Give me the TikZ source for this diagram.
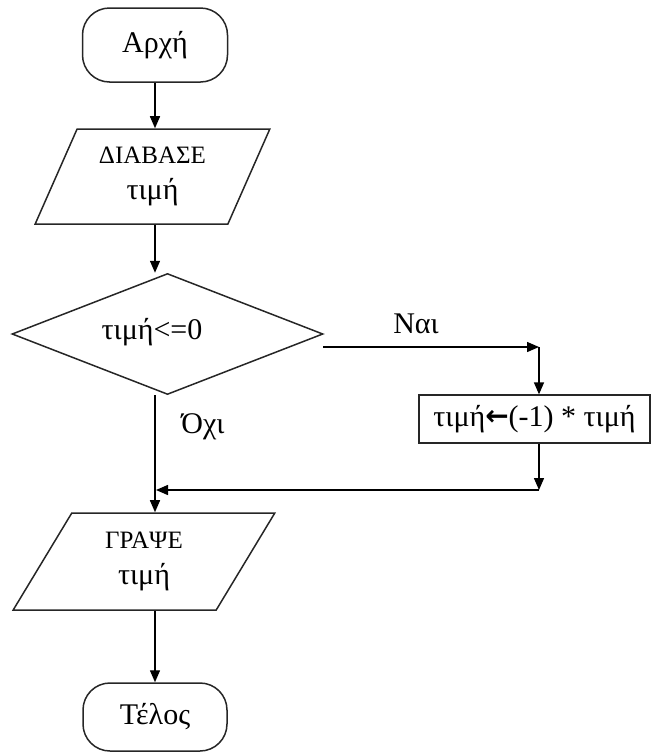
\documentclass[tikz,border=0pt]{standalone}
\usepackage{fontspec}
\setmainfont{Liberation Serif}
\newfontfamily\arrowfont{DejaVu Sans}
\usetikzlibrary{shapes.geometric,arrows.meta,calc}
\tikzset{
  shp/.style={draw=black!85, line width=1.5pt, inner sep=0pt, font=\fontsize{30}{36}\selectfont},
  term/.style={shp, rectangle, rounded corners=27pt},
  iobox/.style={shp, trapezium, trapezium stretches=true, align=center},
  procbox/.style={shp, rectangle, line width=1.3pt},
  decbox/.style={shp, diamond},
  arr/.style={line width=1.4pt, -{Triangle[length=12pt,width=10pt]}},
  lbl/.style={font=\fontsize{30}{36}\selectfont, inner sep=0pt}
}
\begin{document}
\begin{tikzpicture}[x=1pt,y=-1pt]
\useasboundingbox (0,0) rectangle (651,753);
% nodes
\node[term, minimum width=145, minimum height=74] (start) at (155,45) {Αρχή};
\node[iobox, trapezium left angle=63.2, trapezium right angle=116.8,
      minimum width=235, minimum height=95] (p1) at (152.5,176.5)
      {{\fontsize{25}{36}\selectfont ΔΙΑΒΑΣΕ}\\τιμή};
\node[decbox, minimum width=311, minimum height=121] (dia) at (167.5,334) {};
\node[lbl] (diatext) at (152,332) {τιμή<=0};
\node[procbox, minimum width=231, minimum height=48] (box) at (534.5,419)
      {τιμή{\arrowfont\bfseries\fontsize{28}{30}\selectfont\raisebox{0.5pt}{←}}(-1) * τιμή};
\node[iobox, trapezium left angle=61.8, trapezium right angle=118.2,
      minimum width=262, minimum height=97] (p2) at (144,561.5)
      {{\fontsize{25}{36}\selectfont ΓΡΑΨΕ}\\τιμή};
\node[term, minimum width=144, minimum height=68] (stop) at (155,717) {Τέλος};
\node[lbl] (yes) at (416,324) {Ναι};
\node[lbl] (no) at (203,427) {Όχι};
% helper coordinates
\coordinate (ys) at (323,347);
\coordinate (yc) at (539,347);
\coordinate (jc) at (539,490);
% connectors
\draw[arr] (start.south) -- (start.south |- p1.north);
\draw[arr] (start.south |- p1.south) -- (start.south |- dia.north);
\draw[arr] (ys) -- (yc);
\draw[arr] (yc) -- (yc |- box.north);
\draw[arr] (yc |- box.south) -- (jc);
\draw[arr, shorten >=1pt] (jc) -- (jc -| start.south);
\draw[arr] (start.south |- dia.south) -- (start.south |- p2.north);
\draw[arr] (start.south |- p2.south) -- (start.south |- stop.north);
\end{tikzpicture}
\end{document}
